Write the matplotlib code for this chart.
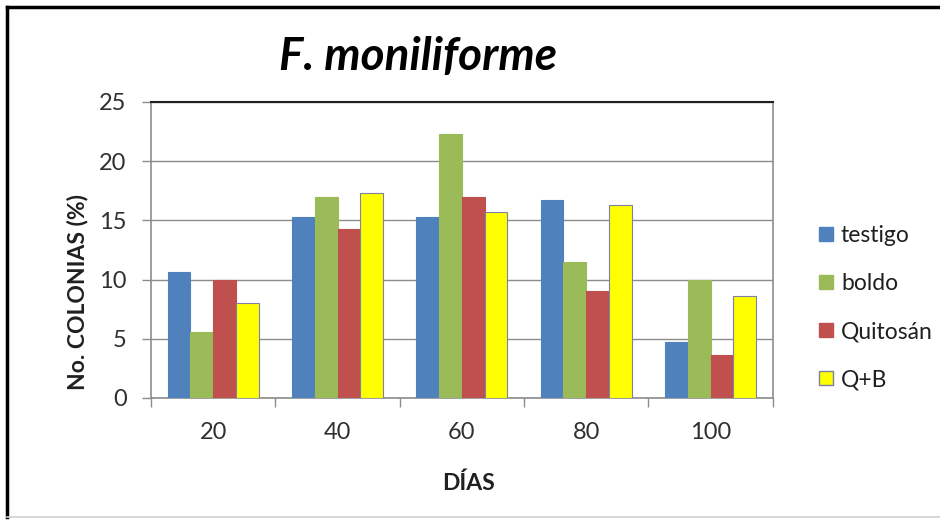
import matplotlib
matplotlib.use("Agg")
import matplotlib.pyplot as plt
import numpy as np
from matplotlib.lines import Line2D
from matplotlib.patches import Patch

plt.rcParams['font.family'] = ['Lato', 'DejaVu Sans']

dias = ["20", "40", "60", "80", "100"]
testigo = [10.6, 15.3, 15.3, 16.7, 4.7]
boldo = [5.6, 17.0, 22.3, 11.5, 10.0]
quitosan = [10.0, 14.3, 17.0, 9.0, 3.6]
q_b = [8.0, 17.3, 15.7, 16.3, 8.6]

series = [("testigo", testigo, "#4F81BD"),
          ("boldo", boldo, "#9BBB59"),
          ("Quitosán", quitosan, "#C0504D"),
          ("Q+B", q_b, "#FFFF00")]

fig = plt.figure(figsize=(9.4, 5.2), dpi=100)
ax = fig.add_axes([151/940, 1 - 398/520, (772.7 - 151)/940, (398 - 102)/520])

x = np.arange(len(dias))
bw = 0.183
for i, (name, vals, col) in enumerate(series):
    edge = "#7F7FA8" if name == "Q+B" else col
    ax.bar(x + (i - 1.5) * bw, vals, width=bw, color=col,
           edgecolor=edge, linewidth=0.8, zorder=3, label=name)

ax.set_xlim(-0.5, len(dias) - 0.5)
ax.set_ylim(0, 25)
ax.set_yticks([0, 5, 10, 15, 20, 25])
ax.yaxis.grid(True, color="#8C8C8C", linewidth=1.0, zorder=0)

# category boundaries carry the tick marks, labels sit at the centres
ax.set_xticks(np.arange(-0.5, len(dias)), minor=False)
ax.set_xticklabels([])
ax.set_xticks(x, minor=True)
ax.set_xticklabels(dias, minor=True)
ax.tick_params(axis="x", which="major", length=6.5, width=1, color="#8C8C8C", direction="out")
ax.tick_params(axis="x", which="minor", length=0, pad=17, labelsize=17, labelcolor="#303030")
ax.tick_params(axis="y", length=6.5, width=1, color="#8C8C8C", direction="out",
               pad=11, labelsize=17, labelcolor="#303030")

for s in ["left", "bottom", "right"]:
    ax.spines[s].set_color("#8C8C8C")
    ax.spines[s].set_linewidth(1.2)
ax.spines["top"].set_color("#202020")
ax.spines["top"].set_linewidth(1.5)

fig.text(418/940, 1 - 57/520, "F. moniliforme", fontsize=33, fontweight="bold",
         fontstyle="italic", ha="center", va="center", color="black")
fig.text(77/940, 1 - 292/520, "No. COLONIAS (%)", fontsize=16.5, fontweight="bold",
         rotation=90, ha="center", va="center", color="#202020")
fig.text(468/940, 1 - 483/520, "DÍAS", fontsize=16.5, fontweight="bold",
         ha="center", va="center", color="#202020")

handles = [Patch(facecolor=c, edgecolor=("#7F7FA8" if n == "Q+B" else c), label=n)
           for n, _, c in series]
leg = fig.legend(handles=handles, loc="upper left", bbox_to_anchor=(810/940, 1 - 216/520),
                 frameon=False, fontsize=16.5, handlelength=0.6, handleheight=0.6,
                 handletextpad=0.35, labelspacing=1.18, borderaxespad=0)
for t in leg.get_texts():
    t.set_color("#202020")

# outer chart frame
fig.add_artist(Line2D([7/940, 7/940], [1 - 7/520, 1 - 517/520], color="black", linewidth=2.5))
fig.add_artist(Line2D([7/940, 1.0], [1 - 7/520, 1 - 7/520], color="black", linewidth=2.5))
fig.add_artist(Line2D([7/940, 1.0], [1 - 517/520, 1 - 517/520], color="#D0D0D0", linewidth=1.2))

fig.savefig("out.png", dpi=100)
